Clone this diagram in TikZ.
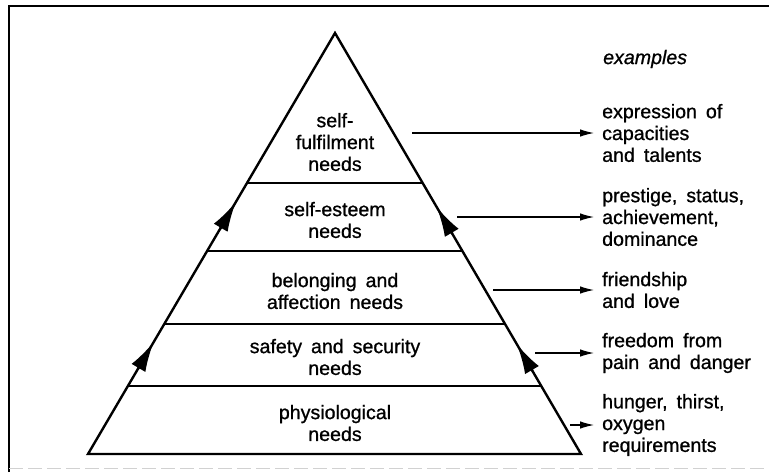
\documentclass[tikz,border=0pt]{standalone}
\usepackage{fontspec}
\setmainfont{Liberation Sans}[WordSpace={1.65,0.2,0.2},FakeBold=0.9,
  UprightFeatures={FakeBold=0.9},ItalicFeatures={FakeBold=0.9}]
\usetikzlibrary{arrows.meta,calc}
\newcommand\levelfont{\fontsize{19.6}{21.8}\selectfont}
\begin{document}
\begin{tikzpicture}[x=1pt,y=-1pt,
  txt/.style={inner sep=0pt,align=center,font=\levelfont},
  ex/.style={txt,align=left,anchor=west,inner xsep=8pt},
  edge/.style={line width=2.4pt,line join=miter},
  divider/.style={line width=1.9pt},
  sidearrow/.style={edge,-{Latex[length=30pt,width=16pt]}},
  outarrow/.style={line width=1.1pt,-{Latex[length=14pt,width=7.5pt]}},
  frame/.style={line width=1.6pt}]
\useasboundingbox (0,0) rectangle (769,472);

% frame
\draw[frame] (9,472) -- (9,6) -- (769,6);
\draw[black!18,line width=1pt,dash pattern=on 14pt off 5pt] (9,468) -- (769,468);

% pyramid corners
\coordinate (A) at (335,33);
\coordinate (L) at (88,454);
\coordinate (R) at (581,454);
\draw[edge] (L) -- (A) -- (R) -- cycle;

% level dividers
\foreach \t in {0.3563,0.5178,0.6912,0.8385}
  \draw[divider] ($(A)!\t!(L)$) -- ($(A)!\t!(R)$);

% upward arrows along the sides
\draw[sidearrow] ($(A)!0.465!(L)$) -- ($(A)!0.401!(L)$);
\draw[sidearrow] ($(A)!0.798!(L)$) -- ($(A)!0.734!(L)$);
\draw[sidearrow] ($(A)!0.477!(R)$) -- ($(A)!0.413!(R)$);
\draw[sidearrow] ($(A)!0.803!(R)$) -- ($(A)!0.739!(R)$);

% levels
\node[txt] (l5) at (335,142) {self-\\fulfilment\\needs};
\node[txt] (l4) at (335,220) {self-esteem\\needs};
\node[txt] (l3) at (335,291) {belonging and\\affection needs};
\node[txt] (l2) at (335,357) {safety and security\\needs};
\node[txt] (l1) at (335,423) {physiological\\needs};

% examples
\node[ex,inner xsep=0pt] (exh) at (603,59) {\itshape examples};
\node[ex] (e5) at (594,133) {expression of\\capacities\\and talents};
\node[ex] (e4) at (594,217) {prestige, status,\\achievement,\\dominance};
\node[ex] (e3) at (594,290) {friendship\\and love};
\node[ex] (e2) at (594,353) {freedom from\\pain and danger};
\node[ex] (e1) at (594,425) {hunger, thirst,\\oxygen\\requirements};

\coordinate (s5) at (412,133);
\coordinate (s4) at (457,217);
\coordinate (s3) at (493,290);
\coordinate (s2) at (535,353);
\coordinate (s1) at (570,425);
\foreach \i in {1,...,5}
  \draw[outarrow] (s\i) -- (e\i.west);
\end{tikzpicture}
\end{document}
